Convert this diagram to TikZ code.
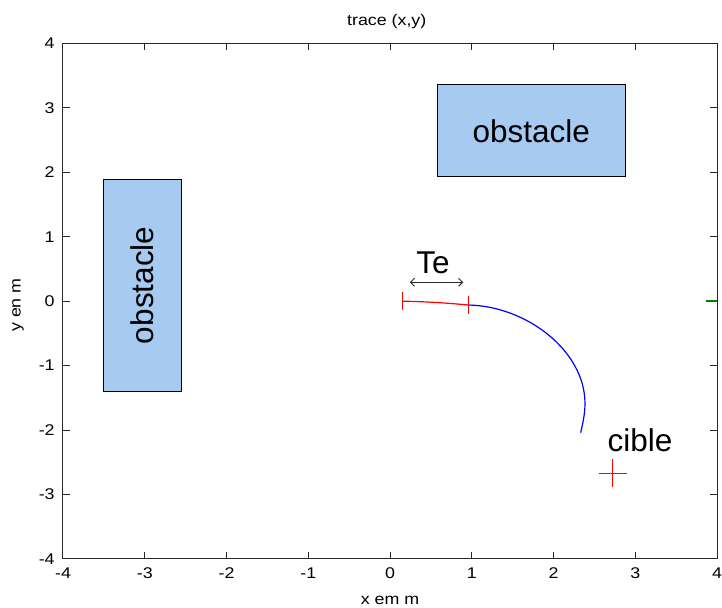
\documentclass[tikz,border=0pt]{standalone}
\usepackage{fontspec}
\setmainfont{Liberation Sans}
\newfontfamily\smallf[FakeStretch=1.15]{Liberation Sans}
\usetikzlibrary{arrows.meta}
\definecolor{obst}{RGB}{166,202,240}
\definecolor{frame}{RGB}{40,40,40}
\begin{document}
\begin{tikzpicture}[x=81.75pt,y=64.46pt,
  axisline/.style={draw=frame,line width=1pt},
  tickmark/.style={draw=frame,line width=0.9pt},
  ticklab/.style={font=\smallf\fontsize{15.5}{15.5}\selectfont,inner sep=0pt},
  obstbox/.style={draw=black,line width=1pt,fill=obst,font=\fontsize{31.5}{31.5}\selectfont,inner sep=0pt},
  bigtext/.style={font=\fontsize{31.5}{31.5}\selectfont,inner sep=0pt},
  traj/.style={line width=1.2pt}]
\useasboundingbox (-4.7706,-4.760) rectangle (4.0612,4.672);
% frame
\draw[axisline] (-4,-4) rectangle (4,4);
% ticks
\foreach \v in {-3,-2,-1,0,1,2,3}{
  \draw[tickmark] (\v,-4) -- ++(0,0.1086);
  \draw[tickmark] (\v,4) -- ++(0,-0.1086);
  \draw[tickmark] (-4,\v) -- ++(0.0856,0);
  \draw[tickmark] (4,\v) -- ++(-0.0856,0);
}
\foreach \v in {-4,-3,-2,-1,0,1,2,3,4}{
  \node[ticklab,anchor=north] (xt\v) at (\v,-4.13) {\v};
  \node[ticklab,anchor=east] (yt\v) at (-4.10,\v) {\v};
}
% labels
\node[ticklab] (title) at (-0.04,4.335) {trace (x,y)};
\node[ticklab] (xlab) at (0,-4.64) {x em m};
\node[ticklab,rotate=90] (ylab) at (-4.55,-0.06) {y en m};
% obstacles
\node[obstbox,minimum width=212pt,minimum height=77.7pt,rotate=90] (obs1) at (-3.025,0.245) {obstacle};
\node[obstbox,minimum width=187.6pt,minimum height=91.9pt] (obs2) at (1.7275,2.6425) {obstacle};
% trajectory
\coordinate (p0) at (0.155,0);
\coordinate (p1) at (0.962,-0.06);
\coordinate (pm) at (2.385,-1.585);
\coordinate (pe) at (2.333,-2.041);
\draw[red,traj] (p0) .. controls (0.5,-0.01) and (0.7,-0.03) .. (p1);
\draw[red,traj] ([yshift=9pt]p0) -- ([yshift=-9pt]p0);
\draw[red,traj] ([yshift=9pt]p1) -- ([yshift=-9pt]p1);
\draw[blue,traj] (p1) .. controls (1.68,-0.08) and (2.385,-0.78) .. (pm)
  .. controls (2.385,-1.78) and (2.35,-1.93) .. (pe);
% Te arrow
\coordinate (te1) at (0.244,0.293);
\coordinate (te2) at (0.896,0.293);
\draw[draw=frame,line width=0.9pt,{Straight Barb[length=4pt,width=8pt]}-{Straight Barb[length=4pt,width=8pt]}] (te1) -- (te2);
\node[bigtext] (te) at (0.526,0.592) {Te};
% target
\coordinate (cb) at (2.724,-2.67);
\draw[red,line width=1.2pt] ([xshift=-14pt]cb) -- ([xshift=14pt]cb);
\draw[red,line width=1.2pt] ([yshift=-14pt]cb) -- ([yshift=14pt]cb);
\node[bigtext] (cible) at (3.058,-2.154) {cible};
% green marker
\coordinate (g0) at (3.87,0);
\coordinate (g1) at (4,0);
\draw[green!50!black,line width=1.5pt] (g0) -- (g1);
\end{tikzpicture}
\end{document}
